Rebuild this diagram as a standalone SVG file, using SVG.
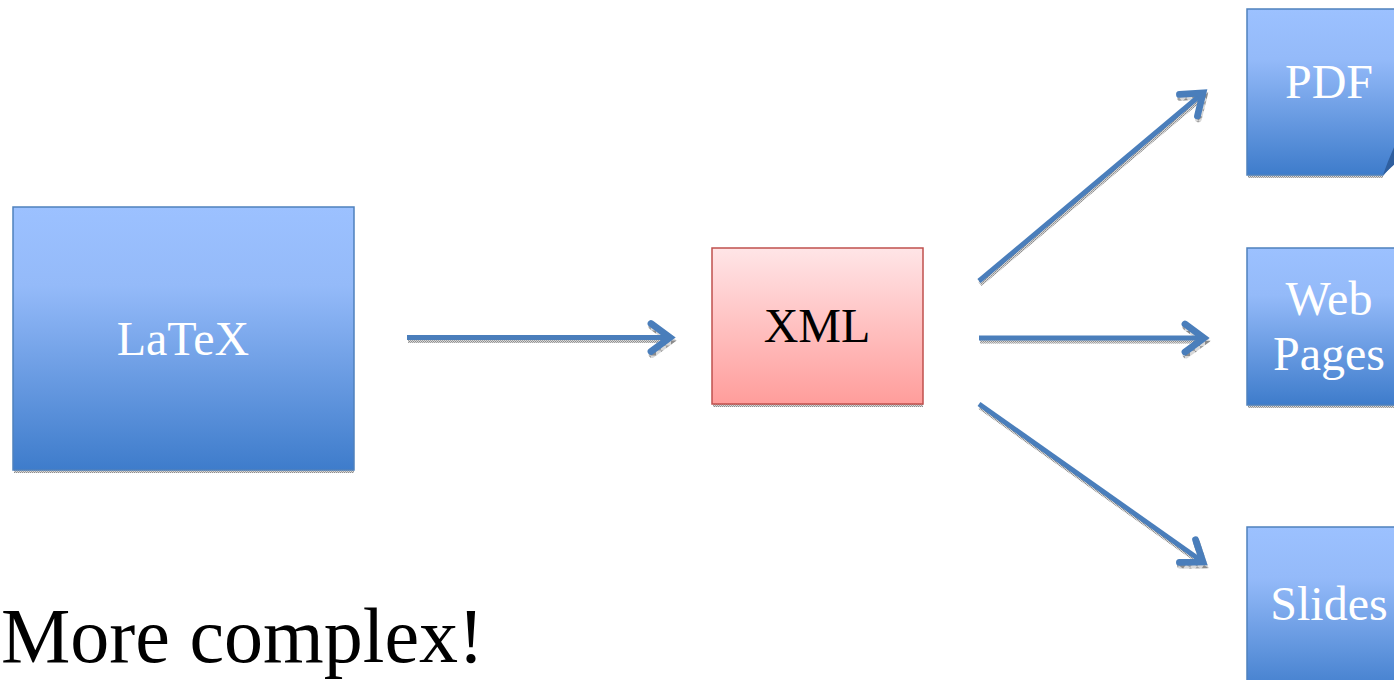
<svg xmlns="http://www.w3.org/2000/svg" width="1394" height="680" viewBox="0 0 1394 680">
  <defs>
    <linearGradient id="blueFill" x1="0" y1="0" x2="0" y2="1">
      <stop offset="0" stop-color="#9cc1ff"/>
      <stop offset="0.3" stop-color="#94baf9"/>
      <stop offset="1" stop-color="#3e7ccb"/>
    </linearGradient>
    <linearGradient id="redFill" x1="0" y1="0" x2="0" y2="1">
      <stop offset="0" stop-color="#ffe5e7"/>
      <stop offset="1" stop-color="#ff9d9b"/>
    </linearGradient>
    <pattern id="stipple" width="2" height="2" patternUnits="userSpaceOnUse">
      <rect width="2" height="2" fill="#d8d8d8"/>
      <rect width="1" height="1" fill="#8c8c8c"/>
      <rect x="1" y="1" width="1" height="1" fill="#a0a0a0"/>
    </pattern>
    <marker id="head" viewBox="-6 -5 8 10" refX="0" refY="0" markerWidth="8" markerHeight="10" markerUnits="strokeWidth" orient="auto" overflow="visible">
      <path d="M-3.8,-2.8 L0,0 L-3.8,2.8" fill="none" stroke="context-stroke" stroke-width="1.35" stroke-linecap="round" stroke-linejoin="miter"/>
    </marker>
    <marker id="headShadow" viewBox="-6 -5 8 10" refX="0" refY="0" markerWidth="8" markerHeight="10" markerUnits="strokeWidth" orient="auto" overflow="visible">
      <path d="M-3.8,-2.8 L0,0 L-3.8,2.8" fill="none" stroke="url(#stipple)" stroke-width="1.35" stroke-linecap="round"/>
    </marker>
  </defs>
  <style>
    .box { fill: url(#blueFill); stroke: #4f81bd; stroke-width: 1.5; }
    .xml { fill: url(#redFill); stroke: #c0504d; stroke-width: 1.5; }
    .shadow { fill: url(#stipple); }
    .label { font-family: "Liberation Serif", "Times New Roman", serif; font-size: 48px; text-anchor: middle; fill: #ffffff; }
    .dark { fill: #000000; }
    .conn { fill: none; stroke: #4a7ebb; stroke-width: 5; marker-end: url(#head); }
    .connShadow { fill: none; stroke: url(#stipple); stroke-width: 5; marker-end: url(#headShadow); }
    .title { font-family: "Liberation Serif", "Times New Roman", serif; font-size: 78px; fill: #000000; }
  </style>

  <rect width="1394" height="680" fill="#ffffff"/>

  <!-- connectors: stippled drop shadows first, then the blue arrows -->
  <g id="connectors">
    <g transform="translate(1,3)">
      <path class="connShadow" d="M407,337.5 H670"/>
      <path class="connShadow" d="M979,281 L1203,93"/>
      <path class="connShadow" d="M979,338 H1204"/>
      <path class="connShadow" d="M979,404 L1203,562"/>
    </g>
    <path class="conn" d="M407,337.5 H670"/>
    <path class="conn" d="M979,281 L1203,93"/>
    <path class="conn" d="M979,338 H1204"/>
    <path class="conn" d="M979,404 L1203,562"/>
  </g>

  <g id="latex">
    <rect class="shadow" x="14" y="470" width="340" height="3"/>
    <rect class="box" x="13" y="207" width="341" height="263"/>
    <text class="label" x="183" y="355">LaTeX</text>
  </g>

  <g id="xml">
    <rect class="shadow" x="713" y="404" width="210" height="3"/>
    <rect class="xml" x="712" y="248" width="211" height="156"/>
    <text class="label dark" x="817" y="342">XML</text>
  </g>

  <g id="pdf">
    <rect class="shadow" x="1248" y="175" width="135" height="3"/>
    <path class="box" d="M1247,9 H1411 V140 L1383,175 H1247 Z"/>
    <path d="M1383,175 Q1389,158 1396,143 L1396,163 Z" fill="#2f5f9f"/>
    <text class="label" x="1329" y="98">PDF</text>
  </g>

  <g id="webpages">
    <rect class="shadow" x="1248" y="405" width="160" height="3"/>
    <rect class="box" x="1247" y="248" width="164" height="157"/>
    <text class="label" x="1329" y="315">Web</text>
    <text class="label" x="1329" y="370">Pages</text>
  </g>

  <g id="slides">
    <rect class="box" x="1247" y="527" width="164" height="170"/>
    <text class="label" x="1329" y="620">Slides</text>
  </g>

  <text class="title" x="1" y="662">More complex!</text>
</svg>
